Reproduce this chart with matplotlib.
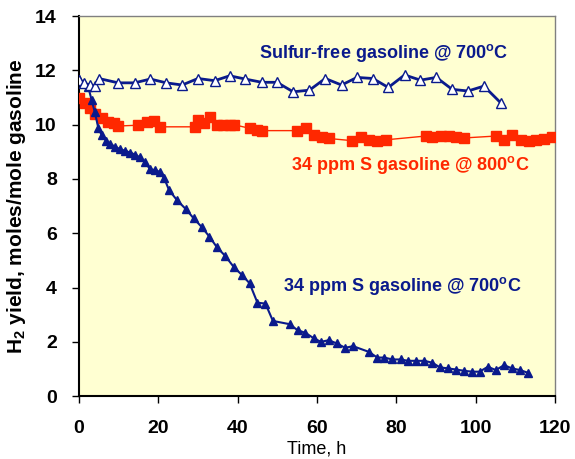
import numpy as np
import matplotlib.pyplot as plt

plt.rcParams['font.family'] = ['Liberation Sans', 'DejaVu Sans']
plt.rcParams['mathtext.default'] = 'regular'

# sulfur-free gasoline @ 700C (open triangles)
sf_t = [0, 1.35, 2.8, 4.0, 5.0, 9.9, 14, 18, 22, 26, 30, 34.2, 38, 41.9, 46.1, 49.9,
        54, 58.1, 62.1, 66.2, 70.1, 74.1, 78, 82.1, 86.1, 90.1, 94.1, 98.1, 102.1, 106.3]
sf_y = [11.64, 11.52, 11.46, 11.42, 11.70, 11.54, 11.54, 11.68, 11.54, 11.46, 11.70, 11.62,
        11.80, 11.68, 11.56, 11.56, 11.21, 11.27, 11.70, 11.46, 11.74, 11.70, 11.37, 11.83,
        11.64, 11.74, 11.30, 11.24, 11.42, 10.81]

# 34 ppm S gasoline @ 800C (squares)
s8_t = [0, 1.5, 2.8, 4.0, 5.7, 7.4, 8.7, 9.9, 15, 17.1, 18.8, 20.5, 29.3, 30.1, 31.6,
        33.1, 34.8, 36.4, 38.1, 39, 43.2, 44.9, 46.1, 55, 57.3, 59.2, 61.3, 63, 68.9,
        71, 73.1, 75.2, 77.3, 87.4, 89.1, 91.2, 93.3, 95, 97.1, 105.1, 107.2, 109.3,
        111.4, 113.5, 115.2, 117.3, 119.4]
s8_y = [11.0, 10.81, 10.61, 10.4, 10.23, 10.1, 10.05, 9.95, 9.98, 10.1, 10.13, 9.92,
        9.92, 10.17, 10.05, 10.29, 10.0, 9.98, 9.98, 10.0, 9.86, 9.8, 9.78, 9.78, 9.86,
        9.62, 9.56, 9.49, 9.41, 9.55, 9.45, 9.41, 9.44, 9.58, 9.55, 9.58, 9.58, 9.55,
        9.51, 9.58, 9.44, 9.62, 9.44, 9.41, 9.43, 9.46, 9.53]

# 34 ppm S gasoline @ 700C (filled triangles)
s7_t = [0, 1.2, 2.3, 3.2, 4.0, 4.9, 5.7, 6.8, 7.8, 9.1, 10.4, 11.6, 12.9, 14.1, 15.4,
        16.7, 17.9, 19.2, 20.3, 21.5, 22.7, 24.7, 27, 28.9, 31, 32.9, 34.8, 36.9, 39,
        41.1, 43, 45, 47, 48.9, 53.1, 55.1, 57.1, 59.2, 61, 63, 65, 67.1, 69.1, 73.1,
        75.2, 77, 79, 81.1, 83, 85.1, 87.1, 89.1, 91, 93.1, 95.1, 97.2, 99.2, 101,
        103.1, 105.1, 107.2, 109.2, 111.2, 113.2]
s7_y = [11.7, 11.55, 11.4, 10.9, 10.45, 9.86, 9.62, 9.41, 9.29, 9.19, 9.09, 9.04, 8.97,
        8.9, 8.79, 8.63, 8.35, 8.33, 8.26, 8.02, 7.59, 7.22, 6.88, 6.55, 6.22, 5.87,
        5.48, 5.16, 4.76, 4.46, 4.16, 3.44, 3.41, 2.77, 2.65, 2.43, 2.33, 2.13, 2.0,
        2.06, 1.94, 1.78, 1.84, 1.63, 1.42, 1.42, 1.35, 1.35, 1.30, 1.30, 1.30, 1.23,
        1.06, 1.02, 0.98, 0.93, 0.90, 0.90, 1.08, 0.96, 1.14, 1.02, 0.96, 0.86]

blue = '#0a1a8c'
red = '#ff2800'

fig = plt.figure(figsize=(5.75, 4.59), dpi=100)
ax = fig.add_axes([0.1374, 0.137, 0.8276, 0.828])
ax.set_facecolor('#ffffd2')

ax.plot(s8_t, s8_y, color=red, lw=1, marker='s', ms=7, mec=red, mfc=red, zorder=3)
ax.plot(s7_t, s7_y, color=blue, lw=1.5, marker='^', ms=6, mec=blue, mfc=blue, zorder=4)
ax.plot(sf_t, sf_y, color=blue, lw=2, marker='^', ms=6.5, mec=blue, mfc='white',
        mew=1, zorder=5)

ax.set_xlim(0, 120)
ax.set_ylim(0, 14)
ax.set_xticks(np.arange(0, 121, 20))
ax.set_yticks(np.arange(0, 15, 2))
ax.tick_params(direction='out', length=5, width=1, labelsize=14)
ax.tick_params(axis='x', pad=12)
ax.tick_params(axis='y', pad=11)
for lab in ax.get_xticklabels() + ax.get_yticklabels():
    lab.set_fontweight('bold')
for s in ['left', 'bottom']:
    ax.spines[s].set_color('black')
    ax.spines[s].set_linewidth(1.5)
for s in ['top', 'right']:
    ax.spines[s].set_color('#808080')
    ax.spines[s].set_linewidth(1)

ax.set_xlabel('Time, h', fontsize=13)
ax.set_ylabel('H$_2$ yield, moles/mole gasoline', fontsize=15, fontweight='bold')
ax.xaxis.set_label_coords(0.5, -0.118)
ax.yaxis.set_label_coords(-0.107, 0.5)

ax.text(76.9, 12.64, 'Sulfur-free gasoline @ 700$^o$C', color=blue, fontsize=13,
        fontweight='bold', ha='center', va='center')
ax.text(83.5, 8.5, '34 ppm S gasoline @ 800$^o$C', color=red, fontsize=13,
        fontweight='bold', ha='center', va='center')
ax.text(81.5, 4.05, '34 ppm S gasoline @ 700$^o$C', color=blue, fontsize=13,
        fontweight='bold', ha='center', va='center')

fig.savefig('out.png', dpi=100)
